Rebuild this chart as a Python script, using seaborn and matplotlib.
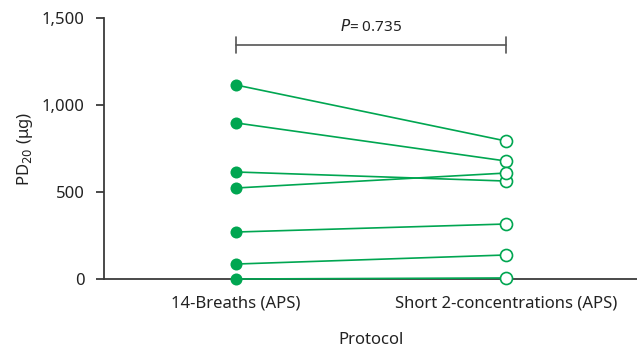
import numpy as np
import pandas as pd
import matplotlib
matplotlib.use("Agg")
import matplotlib.pyplot as plt
import seaborn as sns
from matplotlib.ticker import FuncFormatter

sns.set_style("ticks")
plt.rcParams["font.family"] = ["Noto Sans", "DejaVu Sans"]

# ── Data ──────────────────────────────────────────────────────────────────────
protocols = ["14-Breaths (APS)", "Short 2-concentrations (APS)"]
breaths14 = [1115, 897, 615, 523, 270, 86, 0]
short2conc = [793, 678, 563, 609, 316, 138, 6]
p_text = "0.735"

GREEN = "#00a651"
DARK = "#3a3a3a"

n = len(breaths14)
df = pd.DataFrame({
    "subject": list(range(n)) * 2,
    "Protocol": [protocols[0]] * n + [protocols[1]] * n,
    "PD20": breaths14 + short2conc,
})

# ── Plot ──────────────────────────────────────────────────────────────────────
fig = plt.figure(figsize=(6.37, 3.57), dpi=100)
ax = fig.add_axes([104 / 637, 1 - 279 / 357, 533 / 637, 261 / 357])

sns.lineplot(data=df, x="Protocol", y="PD20", units="subject",
             estimator=None, color=GREEN, linewidth=1.2, ax=ax, zorder=3)
for line in ax.lines:
    line.set_clip_on(False)
sns.scatterplot(data=df[df["Protocol"] == protocols[0]], x="Protocol", y="PD20",
                color=GREEN, s=75, edgecolor=GREEN, linewidth=0, ax=ax,
                zorder=4, clip_on=False)
sns.scatterplot(data=df[df["Protocol"] == protocols[1]], x="Protocol", y="PD20",
                facecolor="white", edgecolor=GREEN, s=75, linewidth=1.2, ax=ax,
                zorder=4, clip_on=False)

ax.set_xlim(-0.489, 1.485)
ax.set_ylim(0, 1500)
ax.set_yticks([0, 500, 1000, 1500])
ax.yaxis.set_major_formatter(FuncFormatter(lambda v, _: f"{int(v):,}"))

sns.despine(ax=ax)
for side in ["left", "bottom"]:
    ax.spines[side].set_color(DARK)
    ax.spines[side].set_linewidth(1.3)
    ax.spines[side].set_zorder(2)
ax.tick_params(axis="y", colors=DARK, labelcolor="#222222", labelsize=12,
               length=6, width=1.3, pad=8)
ax.tick_params(axis="x", length=0, labelsize=12, labelcolor="#222222", pad=12)

ax.set_ylabel("PD$_{20}$ (μg)", fontsize=12, color="#222222", labelpad=5)
ax.set_xlabel("Protocol", fontsize=12, color="#222222", labelpad=15)

# significance bracket
yb = 1345
ax.plot([0, 1], [yb, yb], color="#555555", lw=1.2, clip_on=False)
for xx in [0, 1]:
    ax.plot([xx, xx], [yb - 45, yb + 45], color="#555555", lw=1.2, clip_on=False)
ax.text(0.5, yb + 55, "$P$= " + p_text, ha="center", va="bottom",
        fontsize=11, color="#222222")

fig.savefig("out.png", dpi=100)
